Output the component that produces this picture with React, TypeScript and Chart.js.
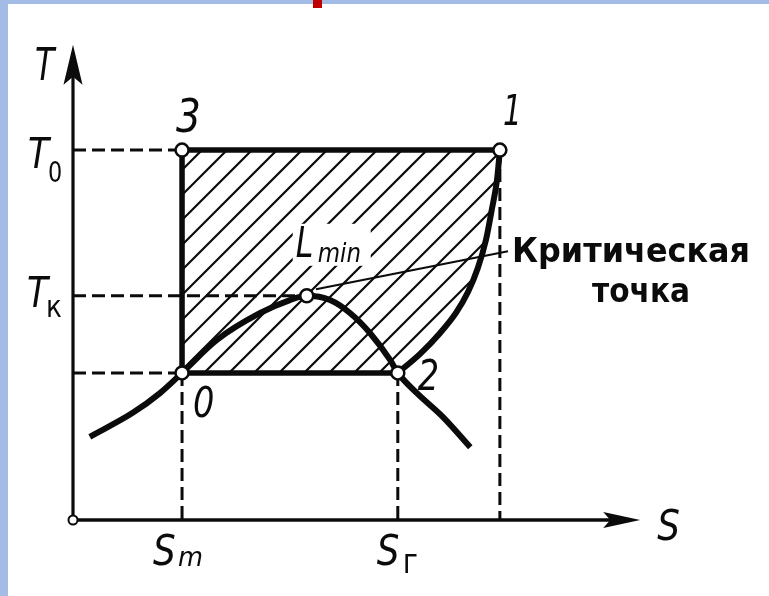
import React, { useEffect, useRef } from "react";
import { Chart, registerables } from "chart.js";

Chart.register(...registerables);

// ---- data (entropy S, temperature T, arbitrary units) ----
// cycle 1 -> 3 -> 0 -> 2
const cycleS = [7.36, 1.88, 1.88, 5.6];
const cycleT = [7.87, 7.87, 3.13, 3.13];
const stateNames = ["1", "3", "0", "2"];
// critical point L_min
const critS = [4.03];
const critT = [4.77];
// saturation dome
const domeS = [0.29, 1.03, 1.5, 1.88, 2.48, 3.22, 3.74, 4.03, 4.43, 4.78, 5.12, 5.47, 5.6, 5.93, 6.38, 6.85];
const domeT = [1.77, 2.28, 2.7, 3.13, 3.83, 4.4, 4.68, 4.77, 4.68, 4.4, 3.98, 3.4, 3.13, 2.7, 2.19, 1.55];
// curve 2 -> 1
const superS = [5.6, 5.98, 6.33, 6.6, 6.81, 6.98, 7.12, 7.22, 7.31, 7.36];
const superT = [3.13, 3.53, 3.98, 4.4, 4.85, 5.36, 5.96, 6.6, 7.23, 7.87];
// axes ends
const axisEndS = [9.78];
const axisEndT = [10.11];
// leader line for "critical point"
const leaderS = [4.19, 7.5];
const leaderT = [4.91, 5.72];
// labels
const yLabelMain = ["T", "T"];
const yLabelSub = ["0", "к"];
const xLabelMain = ["S", "S"];
const xLabelSub = ["m", "г"];
const critLabel = ["Критическая", "точка"];

const INK = "#0b0b0b";
const FONT = "'DejaVu Sans'";

const pts = (xs: number[], ys: number[]) => xs.map((s, i) => ({ x: s, y: ys[i] }));

const lineDs = (data: any[], width: number, extra: any = {}) => ({
  data,
  showLine: true,
  pointRadius: 0,
  borderColor: INK,
  borderWidth: width,
  fill: false,
  tension: 0,
  borderCapStyle: "butt",
  borderJoinStyle: "round",
  order: 5,
  ...extra,
});

function drawText(
  ctx: CanvasRenderingContext2D,
  text: string,
  x: number,
  y: number,
  size: number,
  opt: { italic?: boolean; bold?: boolean; sx?: number; width?: number } = {}
) {
  ctx.save();
  ctx.font = `${opt.italic ? "italic " : ""}${opt.bold ? "bold " : ""}${size}px ${FONT}`;
  ctx.fillStyle = INK;
  ctx.textBaseline = "alphabetic";
  ctx.textAlign = "left";
  let sx = opt.sx ?? 1;
  if (opt.width) sx = opt.width / ctx.measureText(text).width;
  ctx.translate(x, y);
  ctx.scale(sx, 1);
  ctx.fillText(text, 0, 0);
  ctx.restore();
}

const hatchPlugin = {
  id: "hatch",
  beforeDatasetsDraw(chart: any) {
    const { ctx, scales } = chart;
    const px = (v: number) => scales.x.getPixelForValue(v);
    const py = (v: number) => scales.y.getPixelForValue(v);
    ctx.save();
    ctx.beginPath();
    ctx.moveTo(px(cycleS[1]), py(cycleT[1]));
    ctx.lineTo(px(cycleS[0]), py(cycleT[0]));
    for (let i = superS.length - 1; i >= 0; i--) ctx.lineTo(px(superS[i]), py(superT[i]));
    ctx.lineTo(px(cycleS[2]), py(cycleT[2]));
    ctx.closePath();
    ctx.clip();
    ctx.strokeStyle = INK;
    ctx.lineWidth = 2.2;
    ctx.beginPath();
    for (let c = 2; c < 1500; c += 25) {
      ctx.moveTo(c, 0);
      ctx.lineTo(c - 700, 700);
    }
    ctx.stroke();
    ctx.restore();
    // white patch behind L_min label
    ctx.save();
    ctx.fillStyle = "#fff";
    const lx = px(critS[0]) - 14;
    const ly = py(critT[0]) - 72;
    ctx.fillRect(lx, ly, 78, 42);
    ctx.restore();
  },
};

const textPlugin = {
  id: "texts",
  afterDatasetsDraw(chart: any) {
    const { ctx, scales } = chart;
    const px = (v: number) => scales.x.getPixelForValue(v);
    const py = (v: number) => scales.y.getPixelForValue(v);
    const x0 = px(0);
    const y0 = py(0);

    // arrowheads
    ctx.save();
    ctx.fillStyle = INK;
    const ty = py(axisEndT[0]);
    ctx.beginPath();
    ctx.moveTo(x0, ty);
    ctx.lineTo(x0 - 9.5, ty + 40);
    ctx.lineTo(x0, ty + 32);
    ctx.lineTo(x0 + 9.5, ty + 40);
    ctx.closePath();
    ctx.fill();
    const tx = px(axisEndS[0]);
    ctx.beginPath();
    ctx.moveTo(tx, y0);
    ctx.lineTo(tx - 37, y0 - 8);
    ctx.lineTo(tx - 30, y0);
    ctx.lineTo(tx - 37, y0 + 8);
    ctx.closePath();
    ctx.fill();
    ctx.restore();

    // axis names
    drawText(ctx, "T", x0 - 38, ty + 35, 44, { italic: true, sx: 0.72 });
    drawText(ctx, "S", tx + 17, y0 + 20, 42, { italic: true, sx: 0.85 });

    // temperature labels
    const tLevels = [cycleT[0], critT[0]];
    drawText(ctx, yLabelMain[0], x0 - 45, py(tLevels[0]) + 18, 43, { italic: true, sx: 0.8 });
    drawText(ctx, yLabelSub[0], x0 - 25, py(tLevels[0]) + 32, 28, { italic: false, sx: 0.8 });
    drawText(ctx, yLabelMain[1], x0 - 46, py(tLevels[1]) + 11, 43, { italic: true, sx: 0.8 });
    drawText(ctx, yLabelSub[1], x0 - 27, py(tLevels[1]) + 21, 31, { italic: false, sx: 0.85 });

    // entropy labels
    const sLevels = [cycleS[1], cycleS[3]];
    drawText(ctx, xLabelMain[0], px(sLevels[0]) - 29, y0 + 45, 42, { italic: true, sx: 0.85 });
    drawText(ctx, xLabelSub[0], px(sLevels[0]) - 4, y0 + 46, 27, { italic: true, sx: 0.95 });
    drawText(ctx, xLabelMain[1], px(sLevels[1]) - 21, y0 + 45, 42, { italic: true, sx: 0.85 });
    drawText(ctx, xLabelSub[1], px(sLevels[1]) + 5, y0 + 53, 34, { italic: false, sx: 0.85 });

    // state numbers
    drawText(ctx, stateNames[0], px(cycleS[0]) + 3, py(cycleT[0]) - 25, 42, { italic: true, sx: 0.7 });
    drawText(ctx, stateNames[1], px(cycleS[1]) - 6, py(cycleT[1]) - 18, 46, { italic: true, sx: 0.85 });
    drawText(ctx, stateNames[2], px(cycleS[2]) + 11, py(cycleT[2]) + 44, 42, { italic: true, sx: 0.8 });
    drawText(ctx, stateNames[3], px(cycleS[3]) + 20, py(cycleT[3]) + 17, 42, { italic: true, sx: 0.8 });

    // L_min
    drawText(ctx, "L", px(critS[0]) - 11, py(critT[0]) - 39, 42, { italic: true, sx: 0.75 });
    drawText(ctx, "min", px(critS[0]) + 11, py(critT[0]) - 34, 27, { italic: true, sx: 0.85 });

    // critical point text
    const lx = px(leaderS[1]);
    const ly = py(leaderT[1]);
    drawText(ctx, critLabel[0], lx + 4, ly + 11, 34, { bold: true, width: 238 });
    drawText(ctx, critLabel[1], lx + 84, ly + 51, 34, { bold: true, width: 98 });
  },
};

export default function App() {
  const ref = useRef<HTMLCanvasElement>(null);

  useEffect(() => {
    const canvas = ref.current!;
    const sM = cycleS[1];
    const sG = cycleS[3];
    const s1 = cycleS[0];
    const t0 = cycleT[0];
    const tLow = cycleT[2];
    const dash = [13, 6];

    const datasets: any[] = [
      {
        data: [...pts(cycleS, cycleT), ...pts(critS, critT)],
        showLine: false,
        pointRadius: 6.5,
        pointBorderWidth: 2.5,
        pointBackgroundColor: "#fff",
        pointBorderColor: INK,
        order: 0,
      },
      {
        data: [{ x: 0, y: 0 }],
        showLine: false,
        pointRadius: 4.5,
        pointBorderWidth: 2,
        pointBackgroundColor: "#fff",
        pointBorderColor: INK,
        order: 0,
      },
      lineDs(pts(cycleS, cycleT), 5.5, { order: 2 }),
      lineDs(pts(domeS, domeT), 6, { cubicInterpolationMode: "monotone", order: 2 }),
      lineDs(pts(superS, superT), 6, { cubicInterpolationMode: "monotone", order: 2 }),
      lineDs([{ x: 0, y: 0 }, { x: 0, y: axisEndT[0] - 0.5 }], 3.2),
      lineDs([{ x: 0, y: 0 }, { x: axisEndS[0] - 0.4, y: 0 }], 3.6),
      lineDs([{ x: 0, y: t0 }, { x: sM, y: t0 }], 3, { borderDash: dash }),
      lineDs([{ x: 0, y: critT[0] }, { x: critS[0], y: critT[0] }], 3, { borderDash: dash }),
      lineDs([{ x: 0, y: tLow }, { x: sM, y: tLow }], 3, { borderDash: dash }),
      lineDs([{ x: sM, y: tLow }, { x: sM, y: 0 }], 3, { borderDash: dash }),
      lineDs([{ x: sG, y: tLow }, { x: sG, y: 0 }], 3, { borderDash: dash }),
      lineDs([{ x: s1, y: t0 }, { x: s1, y: 0 }], 3, { borderDash: dash }),
      lineDs(pts(leaderS, leaderT), 2),
    ];

    const chart = new Chart(canvas, {
      type: "scatter",
      data: { datasets },
      options: {
        animation: false,
        responsive: false,
        maintainAspectRatio: false,
        devicePixelRatio: 1,
        layout: { padding: 0, autoPadding: false },
        plugins: { legend: { display: false }, tooltip: { enabled: false } },
        scales: {
          x: { type: "linear", min: -73 / 58, max: (769 - 73) / 58, display: false },
          y: { type: "linear", min: -(596 - 520) / 47, max: 520 / 47, display: false },
        },
      } as any,
      plugins: [hatchPlugin, textPlugin],
    });
    return () => chart.destroy();
  }, []);

  return (
    <div
      style={{
        position: "fixed",
        left: 0,
        top: 0,
        width: 769,
        height: 596,
        background: "#fff",
        overflow: "hidden",
      }}
    >
      <canvas
        ref={ref}
        width={769}
        height={596}
        style={{ position: "absolute", left: 0, top: 0, width: 769, height: 596 }}
      />
      <div style={{ position: "absolute", left: 0, top: 0, width: 8, height: 596, background: "#a2bce6" }} />
      <div style={{ position: "absolute", left: 0, top: 0, width: 769, height: 4, background: "#a2bce6" }} />
      <div style={{ position: "absolute", left: 313, top: 0, width: 9, height: 8, background: "#c00000" }} />
    </div>
  );
}
